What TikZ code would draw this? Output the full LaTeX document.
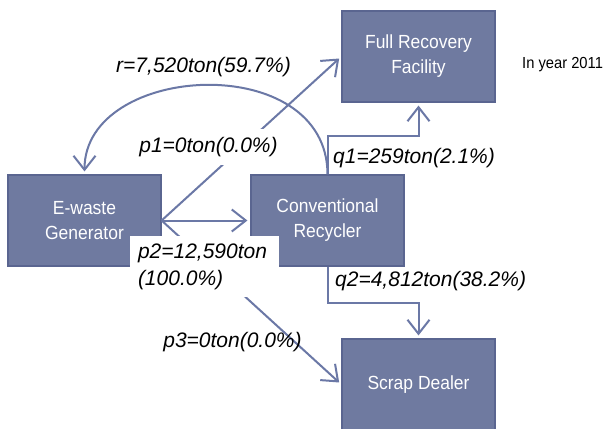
\documentclass[tikz,border=0pt]{standalone}
\usepackage{fontspec}
\setmainfont{Liberation Sans}
\newfontfamily\boxfont[FakeStretch=0.92]{Liberation Sans}
\usetikzlibrary{arrows.meta,calc}
\definecolor{boxfill}{HTML}{6F7AA0}
\definecolor{boxedge}{HTML}{5A6590}
\definecolor{flowline}{HTML}{6B78A6}

\begin{document}
\begin{tikzpicture}[x=1pt,y=-1pt,
  stage/.style={draw=boxedge, line width=1.2pt, fill=boxfill,
    minimum width=153pt, minimum height=91pt, inner sep=0pt,
    align=center, text=white, font=\boxfont\fontsize{19}{25}\selectfont},
  flow/.style={draw=flowline, line width=2pt,
    -{Straight Barb[length=14pt,width=22pt,line width=2pt]}, shorten >=3pt},
  lbl/.style={font=\itshape\fontsize{21}{27}\selectfont, inner sep=0pt},
  note/.style={font=\boxfont\fontsize{16}{19}\selectfont, inner sep=0pt}]

\clip (0,0) rectangle (609,428);
\fill[white] (0,0) rectangle (609,428);

% stages of the flow
\node[stage] (gen) at (84.5,220.5) {E-waste\\Generator};
\node[stage] (cr)  at (327.5,220.5) {Conventional\\Recycler};
\node[stage] (frf) at (418.5,56.5) {Full Recovery\\Facility};
\node[stage] (sd)  at (418.5,384.5) {Scrap Dealer};

% flows out of the generator
\draw[flow] (gen.east) -- (frf.west);
\draw[flow] (gen.east) -- (cr.west);
\draw[flow] (gen.east) -- (sd.west);

% flows out of the recycler
\draw[flow] (cr.north) -- ++(0,-38) -| (frf.south);
\draw[flow] (cr.south) -- ++(0,36) -| (sd.north);
\draw[flow] (cr.north) .. controls +(0,-125) and +(0,-112) .. (gen.north);

% flow quantities
\node[lbl] (rlab) at (203.5,67) {r=7,520ton(59.7\%)};
\node[lbl, fill=white, inner xsep=6pt, inner ysep=8pt] (p1lab) at (208.5,147) {p1=0ton(0.0\%)};
\node[lbl, fill=white, minimum width=149pt, minimum height=61pt,
      text width=133pt, align=left, inner xsep=8pt] (p2lab) at (204.5,266.5)
      {p2=12,590ton\\(100.0\%)};
\node[lbl] (p3lab) at (232.5,342) {p3=0ton(0.0\%)};
\node[lbl, anchor=west] (q1lab) at (333,158) {q1=259ton(2.1\%)};
\node[lbl, anchor=west] (q2lab) at (335,281) {q2=4,812ton(38.2\%)};
\node[note, anchor=west] (year) at (522,65) {In year 2011};
\end{tikzpicture}
\end{document}
